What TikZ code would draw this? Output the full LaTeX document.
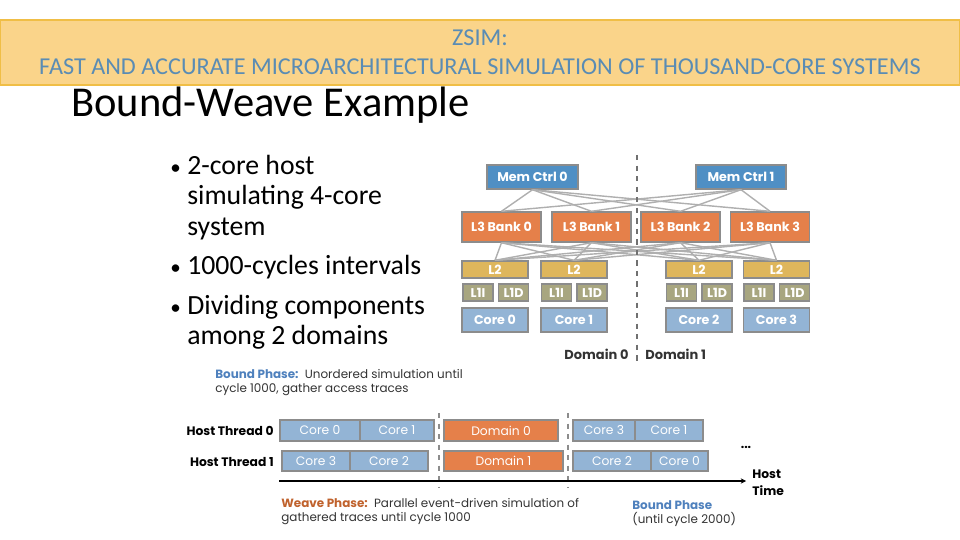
\documentclass[tikz,border=0pt]{standalone}
\usepackage{fontspec}
\setmainfont{Carlito}
\newfontfamily\diagfont{Poppins}
\usetikzlibrary{arrows.meta}

\definecolor{hdrfill}{RGB}{250,212,138}
\definecolor{hdrline}{RGB}{240,190,70}
\definecolor{hdrtext}{RGB}{90,140,180}
\definecolor{memblue}{RGB}{79,143,196}
\definecolor{bankorange}{RGB}{229,128,74}
\definecolor{ltwogold}{RGB}{222,182,92}
\definecolor{lonegreen}{RGB}{168,166,128}
\definecolor{coreblue}{RGB}{147,180,213}
\definecolor{boxline}{RGB}{140,140,140}
\definecolor{wirgray}{RGB}{175,175,175}
\definecolor{boundblue}{RGB}{79,129,189}
\definecolor{weavebrown}{RGB}{192,98,45}

\newcommand{\bul}{\makebox[0.34cm][l]{\fontsize{12}{12}\selectfont•}}

\tikzset{
  unit/.style={draw=boxline, line width=0.8pt, inner sep=0pt, text=white,
    font=\diagfont\bfseries\fontsize{7.2}{8}\selectfont},
  memctrl/.style={unit, fill=memblue, minimum width=1.82cm, minimum height=0.48cm},
  bank/.style={unit, fill=bankorange, minimum width=1.58cm, minimum height=0.6cm},
  ltwo/.style={unit, fill=ltwogold, minimum width=1.32cm, minimum height=0.34cm},
  lone/.style={unit, fill=lonegreen, minimum width=0.6cm, minimum height=0.34cm},
  corebox/.style={unit, fill=coreblue, minimum width=1.32cm, minimum height=0.48cm},
  wire/.style={draw=wirgray, line width=0.8pt},
  slot/.style={draw=boxline, line width=0.8pt, inner sep=0pt, text=white,
    font=\diagfont\fontsize{7}{8}\selectfont},
  coreslot/.style={slot, fill=coreblue},
  domslot/.style={slot, fill=bankorange},
  lbl/.style={inner sep=0pt, font=\diagfont\fontsize{6.8}{8}\selectfont, text=black!80},
  bullet/.style={anchor=base west, inner sep=0pt, font=\fontsize{15.8}{17}\selectfont}
}

\begin{document}
\begin{tikzpicture}[x=0.02cm, y=-0.02cm]
    \useasboundingbox (0,0) rectangle (960,540);

    % header
    \node (hdr) at (480,52.5) [draw=hdrline, fill=hdrfill, line width=0.8pt,
        minimum width=19.2cm, minimum height=1.3cm, inner sep=0pt, align=center,
        text=hdrtext, font=\fontsize{13.8}{16.5}\selectfont]
        {ZSIM:\\FAST AND ACCURATE MICROARCHITECTURAL SIMULATION OF THOUSAND-CORE SYSTEMS};
    \node (title) at (71,117) [anchor=base west, inner sep=0pt,
        font=\fontsize{24.2}{28}\selectfont] {Bound-Weave Example};

    % bullets
    \node (b1) at (170,175) [bullet] {\bul 2-core host};
    \node (b2) at (187,205) [bullet] {simulating 4-core};
    \node (b3) at (187,236) [bullet] {system};
    \node (b4) at (170,275) [bullet] {\bul 1000-cycles intervals};
    \node (b5) at (170,315) [bullet] {\bul Dividing components};
    \node (b6) at (187,345) [bullet] {among 2 domains};

    % simulated system
    \node (mc0) at (532.5,177) [memctrl] {Mem Ctrl 0};
    \node (mc1) at (741,177) [memctrl, minimum width=1.8cm] {Mem Ctrl 1};
    \node (bk0) at (501.5,227) [bank] {L3 Bank 0};
    \node (bk1) at (591.5,227) [bank] {L3 Bank 1};
    \node (bk2) at (680.5,227) [bank] {L3 Bank 2};
    \node (bk3) at (770,227) [bank] {L3 Bank 3};
    \node (lt0) at (495,269.5) [ltwo] {L2};
    \node (lt1) at (574,269.5) [ltwo] {L2};
    \node (lt2) at (699,269.5) [ltwo] {L2};
    \node (lt3) at (776.5,269.5) [ltwo] {L2};
    \node (li0) at (478,292.5) [lone] {L1I};
    \node (ld0) at (513.5,292.5) [lone] {L1D};
    \node (li1) at (556.5,292.5) [lone] {L1I};
    \node (ld1) at (592,292.5) [lone] {L1D};
    \node (li2) at (681.5,292.5) [lone] {L1I};
    \node (ld2) at (717,292.5) [lone] {L1D};
    \node (li3) at (759,292.5) [lone] {L1I};
    \node (ld3) at (794.5,292.5) [lone] {L1D};
    \node (cr0) at (495,320) [corebox] {Core 0};
    \node (cr1) at (574,320) [corebox] {Core 1};
    \node (cr2) at (699,320) [corebox] {Core 2};
    \node (cr3) at (776.5,320) [corebox] {Core 3};

    % memory controllers to banks
    \draw [wire] (mc0.south) -- (bk0.north);
    \draw [wire] (mc0.south) -- (bk1.north);
    \draw [wire] (mc0.south) -- (bk2.north);
    \draw [wire] (mc0.south) -- (bk3.north);
    \draw [wire] (mc1.south) -- (bk0.north);
    \draw [wire] (mc1.south) -- (bk1.north);
    \draw [wire] (mc1.south) -- (bk2.north);
    \draw [wire] (mc1.south) -- (bk3.north);
    % banks to L2s
    \draw [wire] (bk0.south) -- (lt0.north);
    \draw [wire] (bk0.south) -- (lt1.north);
    \draw [wire] (bk0.south) -- (lt2.north);
    \draw [wire] (bk0.south) -- (lt3.north);
    \draw [wire] (bk1.south) -- (lt0.north);
    \draw [wire] (bk1.south) -- (lt1.north);
    \draw [wire] (bk1.south) -- (lt2.north);
    \draw [wire] (bk1.south) -- (lt3.north);
    \draw [wire] (bk2.south) -- (lt0.north);
    \draw [wire] (bk2.south) -- (lt1.north);
    \draw [wire] (bk2.south) -- (lt2.north);
    \draw [wire] (bk2.south) -- (lt3.north);
    \draw [wire] (bk3.south) -- (lt0.north);
    \draw [wire] (bk3.south) -- (lt1.north);
    \draw [wire] (bk3.south) -- (lt2.north);
    \draw [wire] (bk3.south) -- (lt3.north);

    % domain split
    \coordinate (splittop) at (637,155);
    \coordinate (splitbot) at (637,365);
    \draw [dashed, boxline!80!black, line width=0.8pt] (splittop) -- (splitbot);
    \node (dom0) at (629,354) [lbl, anchor=east, font=\diagfont\bfseries\fontsize{7.4}{8}\selectfont] {Domain 0};
    \node (dom1) at (645,354) [lbl, anchor=west, font=\diagfont\bfseries\fontsize{7.4}{8}\selectfont] {Domain 1};

    % host timeline
    \node (bnote) at (215,396) [lbl, anchor=south west, align=left]
        {\textcolor{boundblue}{\bfseries Bound Phase:}\, Unordered simulation until\\cycle 1000, gather access traces};
    \node (ht0) at (274,431) [lbl, anchor=east, text=black, font=\diagfont\bfseries\fontsize{7}{8}\selectfont] {Host Thread 0};
    \node (ht1) at (274,462) [lbl, anchor=east, text=black, font=\diagfont\bfseries\fontsize{7}{8}\selectfont] {Host Thread 1};

    \node (ta0) at (320,430.5) [coreslot, minimum width=1.6cm, minimum height=0.42cm] {Core 0};
    \node (ta1) at (397,430.5) [coreslot, minimum width=1.48cm, minimum height=0.42cm] {Core 1};
    \node (tb3) at (316,461) [coreslot, minimum width=1.36cm, minimum height=0.4cm] {Core 3};
    \node (tb2) at (389,461) [coreslot, minimum width=1.56cm, minimum height=0.4cm] {Core 2};
    \node (wd0) at (501,430.5) [domslot, minimum width=2.28cm, minimum height=0.42cm] {Domain 0};
    \node (wd1) at (503.5,461) [domslot, minimum width=2.38cm, minimum height=0.4cm] {Domain 1};
    \node (tc3) at (604,430.5) [coreslot, minimum width=1.24cm, minimum height=0.42cm] {Core 3};
    \node (tc1) at (669,430.5) [coreslot, minimum width=1.36cm, minimum height=0.42cm] {Core 1};
    \node (td2) at (612,461) [coreslot, minimum width=1.56cm, minimum height=0.4cm] {Core 2};
    \node (td0) at (679.5,461) [coreslot, minimum width=1.14cm, minimum height=0.4cm] {Core 0};
    \node (more) at (746,447) [lbl, text=black, font=\diagfont\bfseries\fontsize{7}{8}\selectfont] {...};

    \coordinate (cuta) at (439,413);
    \coordinate (cutb) at (439,488);
    \coordinate (cutc) at (568,413);
    \coordinate (cutd) at (568,488);
    \draw [dashed, boxline, line width=0.6pt] (cuta) -- (cutb);
    \draw [dashed, boxline, line width=0.6pt] (cutc) -- (cutd);

    \coordinate (axisl) at (279,481);
    \coordinate (axisr) at (746,481);
    \draw [-{Stealth[length=3pt,width=3pt]}, line width=0.8pt] (axisl) -- (axisr);
    \node (htime) at (752,483) [lbl, anchor=west, align=left, text=black,
        font=\diagfont\bfseries\fontsize{7}{9.5}\selectfont] {Host\\Time};

    \node (wnote) at (281,512) [lbl, anchor=west, align=left]
        {\textcolor{weavebrown}{\bfseries Weave Phase:}\, Parallel event-driven simulation of\\gathered traces until cycle 1000};
    \node (bnext) at (632,514) [lbl, anchor=west, align=left]
        {\textcolor{boundblue}{\bfseries Bound Phase}\\(until cycle 2000)};
\end{tikzpicture}
\end{document}
